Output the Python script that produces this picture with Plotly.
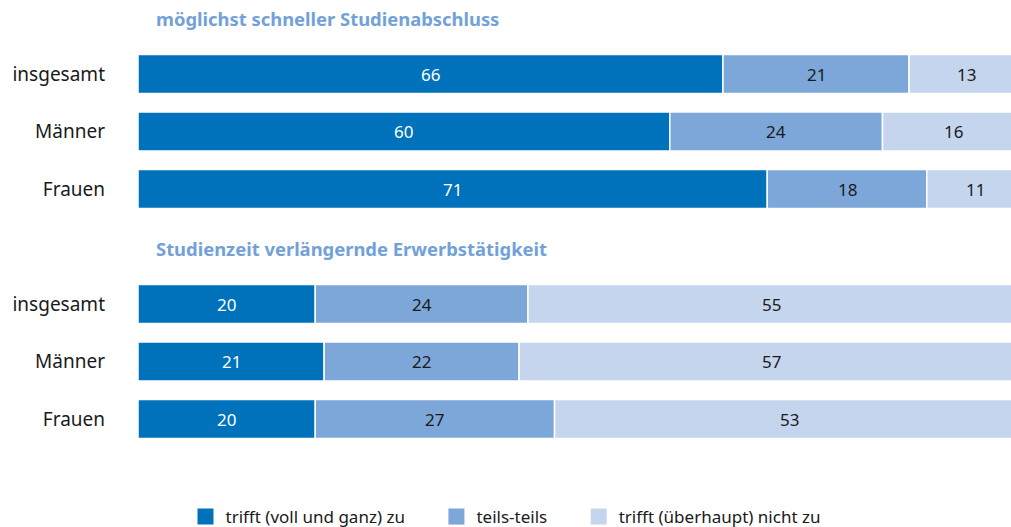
import plotly.graph_objects as go

categories = ["insgesamt", "Männer", "Frauen"]
group_titles = ["möglichst schneller Studienabschluss", "Studienzeit verlängernde Erwerbstätigkeit"]
series_names = ["trifft (voll und ganz) zu", "teils-teils", "trifft (überhaupt) nicht zu"]

g1_trifft = [66, 60, 71]
g1_teils = [21, 24, 18]
g1_nicht = [13, 16, 11]

g2_trifft = [20, 21, 20]
g2_teils = [24, 22, 27]
g2_nicht = [55, 57, 53]

colors = ["#0071bb", "#7ca7d8", "#c6d5ee"]
text_colors = ["white", "#1a1a1a", "#1a1a1a"]
title_color = "#72a1d9"
FONT = "Noto Sans"

groups = [
    [g1_trifft, g1_teils, g1_nicht],
    [g2_trifft, g2_teils, g2_nicht],
]

fig = go.Figure()
annotations = []
tickvals, ticktext = [], []

for gi, series in enumerate(groups):
    base_pos = gi * 4
    ypos = [base_pos + i for i in range(len(categories))]
    tickvals += ypos
    ticktext += categories
    cum = [0] * len(categories)
    for si, vals in enumerate(series):
        fig.add_trace(go.Bar(
            x=vals, y=ypos, base=cum[:], orientation="h",
            marker=dict(color=colors[si], line=dict(color="white", width=1.5)),
            width=0.68, showlegend=False, hoverinfo="skip",
        ))
        for i, v in enumerate(vals):
            annotations.append(dict(
                x=cum[i] + v / 2, y=ypos[i], xref="x", yref="y", text=str(v),
                showarrow=False, font=dict(family=FONT, size=17, color=text_colors[si]),
            ))
        cum = [c + v for c, v in zip(cum, vals)]
    annotations.append(dict(
        x=0.018, xref="paper", xanchor="left", y=base_pos - 0.97, yref="y",
        text="<b>" + group_titles[gi] + "</b>", showarrow=False,
        font=dict(family=FONT, size=18.4, color=title_color),
    ))

pad = "\u00a0" * 6
for si, name in enumerate(series_names):
    label = name + (pad if si < len(series_names) - 1 else "")
    fig.add_trace(go.Scatter(
        x=[None], y=[None], mode="markers", name=label,
        marker=dict(symbol="square", size=18, color=colors[si], line=dict(width=0)),
    ))

fig.update_layout(
    width=1011, height=527,
    margin=dict(l=138, r=0, t=0, b=67, autoexpand=False),
    paper_bgcolor="white", plot_bgcolor="white",
    barmode="overlay",
    annotations=annotations,
    xaxis=dict(range=[0, 98.5], visible=False, fixedrange=True, automargin=False),
    yaxis=dict(range=[6.713, -1.287], tickvals=tickvals, ticktext=ticktext,
               showgrid=False, zeroline=False, showline=False, ticks="",
               ticklabelstandoff=32, automargin=False, fixedrange=True,
               tickfont=dict(family=FONT, size=19, color="#1a1a1a")),
    legend=dict(orientation="h", xref="container", x=0.5, xanchor="center",
                yref="paper", y=-0.124, yanchor="middle",
                font=dict(family=FONT, size=17, color="#1a1a1a"),
                itemclick=False, itemdoubleclick=False, tracegroupgap=0),
    showlegend=True,
)

fig.write_html(
    "out.html",
    config={"displayModeBar": False},
    post_script="document.body.style.margin='0px';document.body.style.overflow='hidden';",
)
